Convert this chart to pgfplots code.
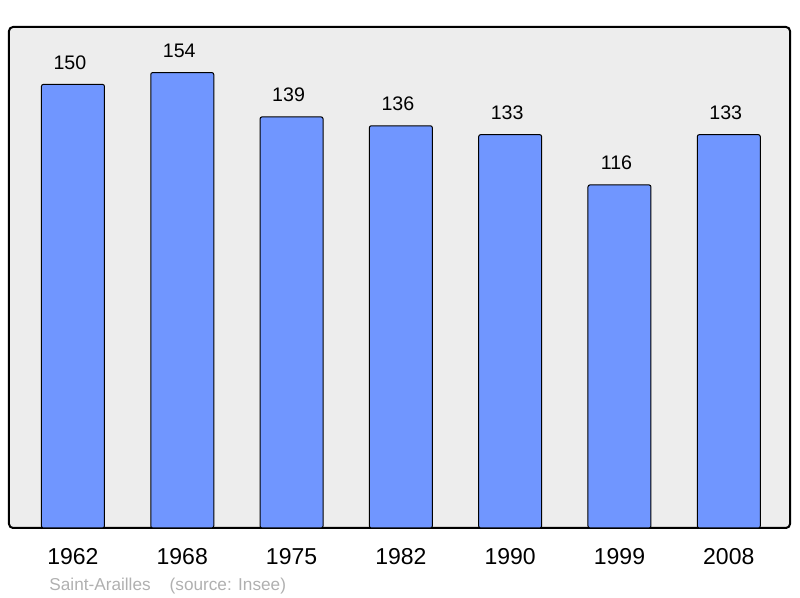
\documentclass[border=0pt]{standalone}
\usepackage{fontspec}
\setmainfont{Liberation Sans}
\usepackage{pgfplots}
\pgfplotsset{compat=1.18}
\definecolor{barblue}{RGB}{112,150,255}
\definecolor{panelgray}{RGB}{237,237,237}
\definecolor{srcgray}{RGB}{176,176,176}

\begin{document}
\begin{tikzpicture}
\path[use as bounding box] (0pt,0pt) rectangle (400pt,299pt);
\begin{axis}[
    at={(4.5pt,35pt)}, anchor=south west,
    scale only axis,
    width=390.5pt, height=250.5pt,
    ybar, bar width=31.5pt,
    xmin=-0.585, xmax=6.56,
    ymin=0, ymax=169.4,
    xtick=data,
    xticklabels={1962,1968,1975,1982,1990,1999,2008},
    ytick=\empty,
    major tick length=0pt,
    axis line style={draw=none},
    axis background/.style={fill=panelgray, draw=black, line width=1pt, rounded corners=2pt},
    xticklabel style={font=\fontsize{11.5}{13}\selectfont, yshift=-6.5pt},
    /pgf/number format/assume math mode=true,
    nodes near coords,
    every node near coord/.append style={font=\fontsize{9.8}{11}\selectfont, anchor=south, yshift=4pt, xshift=-1.5pt},
    clip=false,
]
\addplot[fill=barblue, draw=black, line width=0.5pt, rounded corners=1pt] coordinates {
    (0,150) (1,154) (2,139) (3,136) (4,133) (5,116) (6,133)
};
\end{axis}
\node[anchor=west, text=srcgray, font=\fontsize{8.6}{10}\selectfont, inner sep=0pt] at (24.5pt,6pt) {Saint-Arailles\hspace{9.5pt}(source: Insee)};
\end{tikzpicture}
\end{document}
